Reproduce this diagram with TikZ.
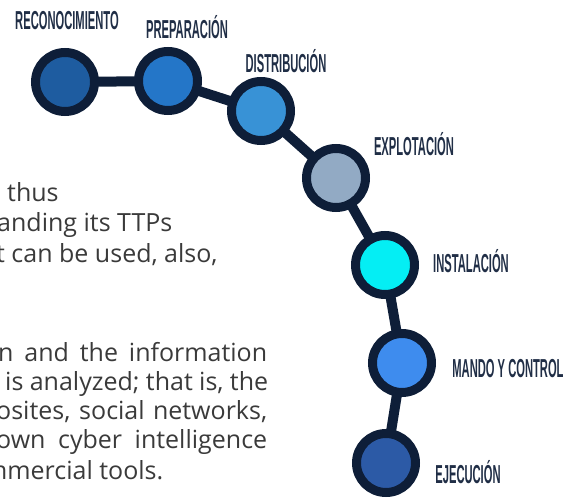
\documentclass[tikz,border=0pt]{standalone}
\usepackage{fontspec}
\setmainfont{Open Sans}
\newfontfamily\stagefont[FakeStretch=0.43]{Liberation Sans}
\usetikzlibrary{backgrounds}

\definecolor{ringnavy}{RGB}{14,30,56}
\definecolor{labelnavy}{RGB}{32,46,70}
\definecolor{bodygray}{RGB}{58,58,58}
\definecolor{recofill}{RGB}{30,92,160}
\definecolor{prepfill}{RGB}{36,118,200}
\definecolor{distfill}{RGB}{56,146,214}
\definecolor{explfill}{RGB}{146,170,196}
\definecolor{instfill}{RGB}{4,238,244}
\definecolor{mandfill}{RGB}{62,140,238}
\definecolor{ejecfill}{RGB}{44,90,166}

\tikzset{
    stage/.style={circle, draw=ringnavy, line width=9pt, minimum size=59pt, inner sep=0pt},
    link/.style={draw=ringnavy, line width=10pt},
    stagelabel/.style={text=labelnavy, inner sep=0pt,
        font=\stagefont\bfseries\fontsize{26}{26}\selectfont},
    bodyline/.style={anchor=base west, inner sep=0pt, text=bodygray,
        font=\fontsize{25}{29}\selectfont}
}

\begin{document}
\begin{tikzpicture}[x=1pt, y=-1pt]
    \useasboundingbox (0,0) rectangle (574,500);
    \clip (0,0) rectangle (574,500);

    % Text cut at the left edge
    \node[bodyline] (thus) at (7,202) {thus};
    \node[bodyline] (ttps) at (-3,232) {anding its TTPs};
    \node[bodyline] (used) at (-4,263) {t can be used, also,};
    \node[bodyline] (info) at (-2,362) {\makebox[269pt][s]{n and the information}};
    \node[bodyline] (anal) at (5,391) {\makebox[263pt][s]{is analyzed; that is, the}};
    \node[bodyline] (webs) at (-4,420) {\makebox[271pt][s]{osites, social networks,}};
    \node[bodyline] (cyber) at (-4,449) {\makebox[271pt][s]{own cyber intelligence}};
    \node[bodyline] (tools) at (-16,479) {mmercial tools.};

    % The seven stages
    \node[stage, fill=recofill] (reco) at (65,82) {};
    \node[stage, fill=prepfill] (prep) at (168,81) {};
    \node[stage, fill=distfill] (dist) at (261,111) {};
    \node[stage, fill=explfill] (expl) at (336,178) {};
    \node[stage, fill=instfill] (inst) at (385,265) {};
    \node[stage, fill=mandfill] (mand) at (402,363) {};
    \node[stage, fill=ejecfill] (ejec) at (386,463) {};

    \begin{scope}[on background layer]
        \foreach \a/\b in {reco/prep, prep/dist, dist/expl, expl/inst, inst/mand, mand/ejec} {
            \draw[link] (\a.center) -- (\b.center);
        }
    \end{scope}

    % Stage names
    \node[stagelabel] (recolabel) at (67,21) {RECONOCIMIENTO};
    \node[stagelabel] (preplabel) at (187,27) {PREPARACIÓN};
    \node[stagelabel] (distlabel) at (286,61) {DISTRIBUCIÓN};
    \node[stagelabel] (expllabel) at (414,144) {EXPLOTACIÓN};
    \node[stagelabel] (instlabel) at (471,261) {INSTALACIÓN};
    \node[stagelabel] (mandlabel) at (508,369) {MANDO Y CONTROL};
    \node[stagelabel] (ejeclabel) at (468,472) {EJECUCIÓN};
\end{tikzpicture}
\end{document}
